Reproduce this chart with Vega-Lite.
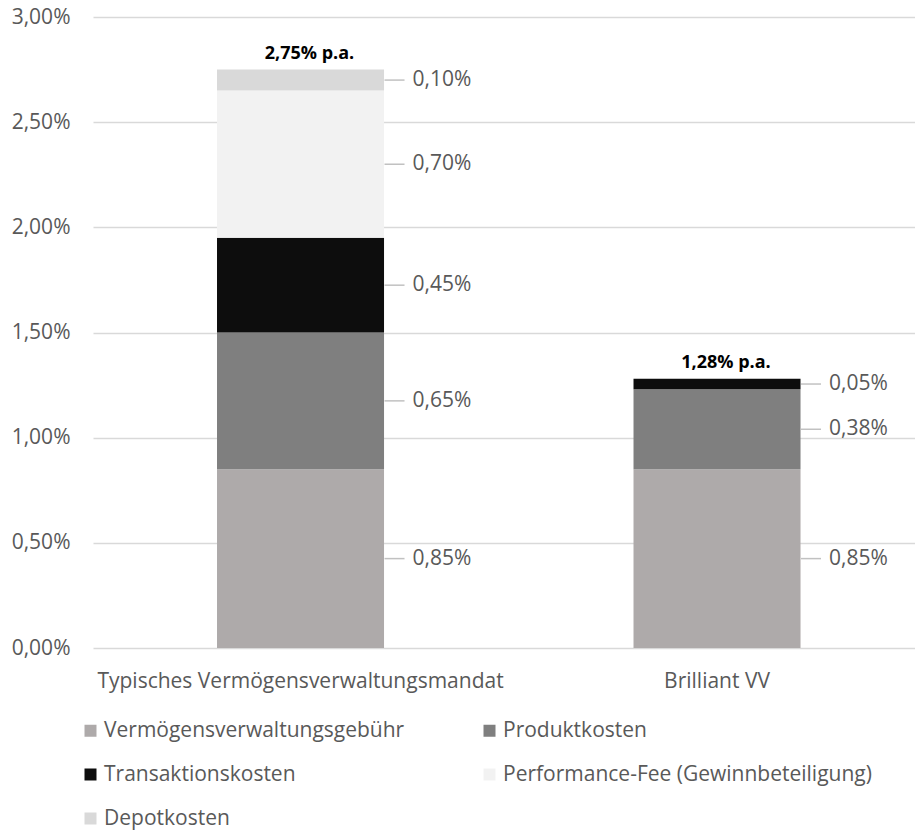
{
  "$schema": "https://vega.github.io/schema/vega-lite/v6.json",
  "autosize": "none",
  "width": 822,
  "height": 631,
  "padding": {"left": 93, "top": 17, "right": 0, "bottom": 184},
  "background": "white",
  "config": {
    "font": "Open Sans",
    "view": {"stroke": null},
    "locale": {"number": {"decimal": ",", "thousands": ".", "grouping": [3], "currency": ["", " €"]}}
  },
  "datasets": {
    "segments": [
      {"cat": "Typisches Vermögensverwaltungsmandat", "comp": "Vermögensverwaltungsgebühr", "ord": 1, "value": 0.0085},
      {"cat": "Typisches Vermögensverwaltungsmandat", "comp": "Produktkosten", "ord": 2, "value": 0.0065},
      {"cat": "Typisches Vermögensverwaltungsmandat", "comp": "Transaktionskosten", "ord": 3, "value": 0.0045},
      {"cat": "Typisches Vermögensverwaltungsmandat", "comp": "Performance-Fee (Gewinnbeteiligung)", "ord": 4, "value": 0.007},
      {"cat": "Typisches Vermögensverwaltungsmandat", "comp": "Depotkosten", "ord": 5, "value": 0.001},
      {"cat": "Brilliant VV", "comp": "Vermögensverwaltungsgebühr", "ord": 1, "value": 0.0085},
      {"cat": "Brilliant VV", "comp": "Produktkosten", "ord": 2, "value": 0.0038},
      {"cat": "Brilliant VV", "comp": "Transaktionskosten", "ord": 3, "value": 0.0005}
    ],
    "totals": [
      {"cat": "Typisches Vermögensverwaltungsmandat", "total": 0.0275, "label": "2,75% p.a."},
      {"cat": "Brilliant VV", "total": 0.0128, "label": "1,28% p.a."}
    ]
  },
  "data": {"name": "segments"},
  "encoding": {
    "x": {
      "field": "cat",
      "type": "nominal",
      "sort": ["Typisches Vermögensverwaltungsmandat", "Brilliant VV"],
      "scale": {"paddingInner": 0.599, "paddingOuter": 0.2863, "align": 0.52},
      "axis": {
        "title": null,
        "labelAngle": 0,
        "ticks": false,
        "domain": false,
        "labelPadding": 22,
        "labelFontSize": 21,
        "labelColor": "#595959",
        "labelLimit": 600
      }
    }
  },
  "layer": [
    {
      "mark": {"type": "bar"},
      "encoding": {
        "y": {
          "field": "value",
          "type": "quantitative",
          "stack": "zero",
          "scale": {"domain": [0, 0.03], "nice": false},
          "axis": {
            "title": null,
            "values": [0, 0.005, 0.01, 0.015, 0.02, 0.025, 0.03],
            "format": ".2%",
            "ticks": false,
            "domain": false,
            "labelPadding": 23,
            "labelFontSize": 21,
            "labelColor": "#595959",
            "gridColor": "#d9d9d9",
            "gridWidth": 1.5
          }
        },
        "color": {
          "field": "comp",
          "type": "nominal",
          "scale": {
            "domain": ["Vermögensverwaltungsgebühr", "Produktkosten", "Transaktionskosten", "Performance-Fee (Gewinnbeteiligung)", "Depotkosten"],
            "range": ["#aeaaaa", "#7f7f7f", "#0d0d0d", "#f2f2f2", "#d9d9d9"]
          },
          "legend": {
            "title": null,
            "orient": "none",
            "legendX": -13,
            "legendY": 703,
            "direction": "horizontal",
            "columns": 2,
            "columnPadding": 74,
            "rowPadding": 22,
            "padding": 0,
            "symbolType": "square",
            "symbolSize": 144,
            "symbolStrokeWidth": 0,
            "labelFontSize": 21,
            "labelColor": "#595959",
            "labelOffset": 3,
            "labelLimit": 600
          }
        },
        "order": {"field": "ord", "type": "quantitative"}
      }
    },
    {
      "transform": [
        {"stack": "value", "groupby": ["cat"], "sort": [{"field": "ord", "order": "ascending"}], "as": ["v0", "v1"]},
        {"calculate": "(datum.v0 + datum.v1) / 2", "as": "mid"}
      ],
      "mark": {"type": "tick", "orient": "horizontal", "size": 20, "thickness": 1.5, "xOffset": 94, "color": "#a6a6a6"},
      "encoding": {
        "y": {"field": "mid", "type": "quantitative"}
      }
    },
    {
      "transform": [
        {"stack": "value", "groupby": ["cat"], "sort": [{"field": "ord", "order": "ascending"}], "as": ["v0", "v1"]},
        {"calculate": "(datum.v0 + datum.v1) / 2", "as": "mid"}
      ],
      "mark": {"type": "text", "align": "left", "baseline": "middle", "dx": 112, "fontSize": 21, "color": "#595959"},
      "encoding": {
        "y": {"field": "mid", "type": "quantitative"},
        "text": {"field": "value", "type": "quantitative", "format": ".2%"}
      }
    },
    {
      "data": {"name": "totals"},
      "mark": {"type": "text", "align": "center", "baseline": "middle", "dx": 9, "dy": -16, "fontSize": 18, "fontWeight": "bold", "color": "#000000"},
      "encoding": {
        "y": {"field": "total", "type": "quantitative"},
        "text": {"field": "label", "type": "nominal"}
      }
    }
  ]
}
